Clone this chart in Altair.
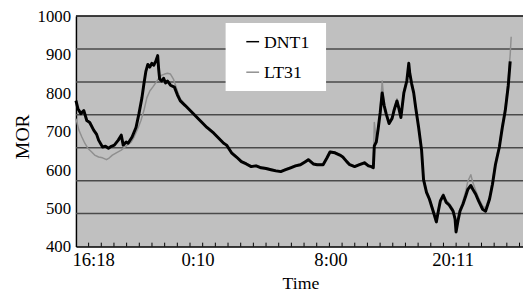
import altair as alt
import pandas as pd
import numpy as np

# DNT1 series (sample index, MOR)
dnt1_x = [0, 2, 5, 8, 11, 14, 18, 21, 23, 27, 30, 33, 36, 39, 43, 46, 48, 51, 53, 57,
          61, 64, 67, 69, 71, 73, 75, 77, 79, 81, 83, 84, 85, 87, 89, 91, 93, 96, 100, 103,
          106, 111, 116, 121, 126, 133, 140, 145, 150, 153, 158, 163, 168, 173, 178, 183, 188, 193, 198, 203,
          208, 213, 218, 223, 228, 233, 236, 241, 245, 251, 255, 258, 263, 268, 271, 275, 278, 283, 288, 293,
          297, 300, 302, 303, 305, 307, 309, 311, 313, 315, 318, 321, 323, 326, 328, 330, 333, 336, 338, 339,
          341, 343, 345, 348, 351, 353, 356, 359, 363, 366, 368, 370, 373, 376, 379, 383, 385, 386, 388, 390,
          393, 396, 398, 401, 403, 406, 409, 413, 416, 420, 423, 426, 430, 433, 436, 439, 441]
dnt1_v = [780, 759, 746, 754, 728, 723, 703, 692, 677, 659, 661, 656, 661, 664, 677, 690, 664, 672, 669, 685,
          710, 746, 787, 823, 856, 874, 867, 877, 872, 882, 897, 862, 836, 831, 838, 826, 831, 820, 815, 795,
          779, 767, 754, 741, 728, 710, 695, 682, 669, 664, 644, 633, 621, 615, 608, 610, 605, 603, 600, 597,
          595, 600, 605, 610, 613, 621, 626, 615, 613, 613, 631, 646, 644, 638, 633, 621, 613, 608, 613, 618,
          610, 608, 605, 662, 672, 708, 749, 800, 767, 746, 720, 733, 754, 779, 759, 736, 800, 831, 877, 851,
          823, 800, 762, 710, 651, 574, 541, 523, 490, 464, 492, 518, 533, 515, 508, 492, 472, 438, 467, 492,
          510, 533, 549, 559, 549, 536, 518, 497, 492, 523, 562, 613, 659, 710, 754, 818, 882]

# LT31 series (sample index, MOR)
lt31_x = [0, 3, 6, 9, 12, 16, 19, 23, 27, 31, 34, 37, 41, 46, 52, 56, 59, 63, 66, 69,
          72, 75, 78, 81, 84, 87, 90, 93, 96, 99, 103, 106, 111, 116, 121, 126, 133, 140, 145, 150,
          158, 163, 168, 173, 178, 183, 188, 193, 198, 203, 208, 213, 218, 223, 228, 233, 236, 241, 245, 251,
          255, 258, 263, 268, 271, 275, 278, 283, 288, 293, 297, 300, 302, 303, 305, 307, 309, 311, 313, 315,
          318, 321, 323, 326, 328, 330, 333, 336, 338, 341, 343, 345, 348, 351, 353, 356, 359, 363, 366, 368,
          370, 373, 376, 379, 383, 386, 388, 390, 393, 396, 398, 401, 403, 406, 409, 413, 416, 420, 423, 426,
          430, 433, 436, 439, 441, 442]
lt31_v = [733, 703, 685, 669, 656, 646, 638, 633, 631, 626, 631, 638, 644, 651, 664, 672, 685, 708, 728, 754,
          787, 805, 815, 826, 838, 846, 849, 851, 849, 836, 805, 785, 769, 756, 743, 730, 712, 697, 684, 671,
          646, 635, 623, 617, 610, 612, 607, 605, 602, 599, 597, 602, 607, 612, 615, 623, 628, 617, 615, 615,
          633, 648, 646, 640, 635, 623, 615, 610, 615, 620, 612, 610, 607, 723, 680, 712, 760, 831, 772, 750,
          725, 738, 759, 785, 764, 741, 805, 836, 872, 828, 805, 767, 715, 656, 580, 546, 528, 495, 470, 497,
          523, 538, 520, 513, 497, 446, 472, 497, 518, 546, 570, 587, 567, 546, 526, 505, 500, 530, 570, 620,
          667, 718, 764, 838, 900, 946]

series_names = ["DNT1", "LT31"]
series_colors = ["#000000", "#8f8f8f"]

y_ticks = [400, 500, 600, 700, 800, 900, 1000]
x_label_pos = [18, 124, 259, 383]
x_label_txt = ["16:18", "0:10", "8:00", "20:11"]
grid_vals = [400 + 600 * k / 7 for k in range(1, 7)]
minor_ticks = [round(12.87 * k, 2) for k in range(1, 36)]

FONT = "Liberation Serif"

df = pd.concat([
    pd.DataFrame({"x": lt31_x, "v": lt31_v, "series": "LT31", "ord": 0}),
    pd.DataFrame({"x": dnt1_x, "v": dnt1_v, "series": "DNT1", "ord": 1}),
])

x_scale = alt.Scale(domain=[0, 454], nice=False, zero=False)
y_scale = alt.Scale(domain=[400, 1000], nice=False, zero=False)
color_scale = alt.Scale(domain=series_names, range=series_colors)

x_axis = alt.Axis(values=x_label_pos, labels=False, ticks=False, tickSize=0,
                  grid=False, domainColor="#000000", domainWidth=1.5,
                  title="Time", titleFont=FONT, titleFontSize=18, titleFontWeight="normal",
                  titleColor="#000000", titleX=228, titleY=43, titleBaseline="alphabetic",
                  titleAlign="center")
y_axis = alt.Axis(values=y_ticks, labels=False, ticks=False, tickSize=0, grid=False,
                  domainColor="#000000", domainWidth=1.5,
                  title="MOR", titleFont=FONT, titleFontSize=20, titleFontWeight="normal",
                  titleColor="#000000", titleX=-54, titleY=122, titleAngle=270,
                  titleAlign="center", titleBaseline="middle")

grid = alt.Chart(pd.DataFrame({"g": grid_vals})).mark_rule(
    color="#4a4a4a", strokeWidth=1.6
).encode(y=alt.Y("g:Q", scale=y_scale, axis=y_axis))

top_border = alt.Chart(pd.DataFrame({"g": [1000]})).mark_rule(
    color="#000000", strokeWidth=1.5
).encode(y=alt.Y("g:Q", scale=y_scale, axis=y_axis))

ticks = alt.Chart(pd.DataFrame({"t": minor_ticks, "y0": 400, "y1": 410})).mark_rule(
    color="#000000", strokeWidth=1
).encode(
    x=alt.X("t:Q", scale=x_scale, axis=x_axis),
    y=alt.Y("y0:Q", scale=y_scale, axis=y_axis),
    y2="y1:Q",
)

lines = alt.Chart(df).mark_line(interpolate="linear", strokeJoin="round").encode(
    x=alt.X("x:Q", scale=x_scale, axis=x_axis),
    y=alt.Y("v:Q", scale=y_scale, axis=y_axis),
    color=alt.Color("series:N", scale=color_scale, legend=None),
    strokeWidth=alt.StrokeWidth("series:N",
                                scale=alt.Scale(domain=series_names, range=[3.0, 1.5]),
                                legend=None),
    order=alt.Order("ord:Q"),
    detail="series:N",
)

# axis tick labels as text marks
y_labels = alt.Chart(pd.DataFrame({"v": y_ticks, "lab": [str(t) for t in y_ticks]})).mark_text(
    align="right", baseline="middle", font=FONT, fontSize=17, color="#000000", dx=-5, dy=1
).encode(x=alt.value(0), y=alt.Y("v:Q", scale=y_scale, axis=y_axis), text="lab:N")

x_labels = alt.Chart(pd.DataFrame({"p": x_label_pos, "lab": x_label_txt})).mark_text(
    align="center", baseline="top", font=FONT, fontSize=19, color="#000000"
).encode(x=alt.X("p:Q", scale=x_scale, axis=x_axis), y=alt.value(239), text="lab:N")

# legend box
legend_layers = [
    alt.Chart(pd.DataFrame({"s": [0]})).mark_rect(color="#ffffff").encode(
        x=alt.value(152), x2=alt.value(254), y=alt.value(7), y2=alt.value(76))
]
for i, name in enumerate(series_names):
    yy = 26 + 31 * i
    one = pd.DataFrame({"series": [name]})
    legend_layers.append(
        alt.Chart(one).mark_rule(strokeWidth=1.5).encode(
            x=alt.value(173), x2=alt.value(186), y=alt.value(yy),
            color=alt.Color("series:N", scale=color_scale, legend=None))
    )
    legend_layers.append(
        alt.Chart(one).mark_text(align="left", baseline="middle", font=FONT, fontSize=18,
                                 color="#000000").encode(
            x=alt.value(191), y=alt.value(yy + 1), text="series:N")
    )

chart = alt.layer(grid, top_border, ticks, lines, y_labels, x_labels, *legend_layers).properties(
    width=454, height=234,
    autosize=alt.AutoSizeParams(type="none"),
    padding={"left": 69, "top": 6, "right": 0, "bottom": 44},
    background="#ffffff",
).configure(font=FONT).configure_view(fill="#c0c0c0", strokeOpacity=0)

chart.save("out.html", embed_options={"renderer": "svg", "actions": False})
